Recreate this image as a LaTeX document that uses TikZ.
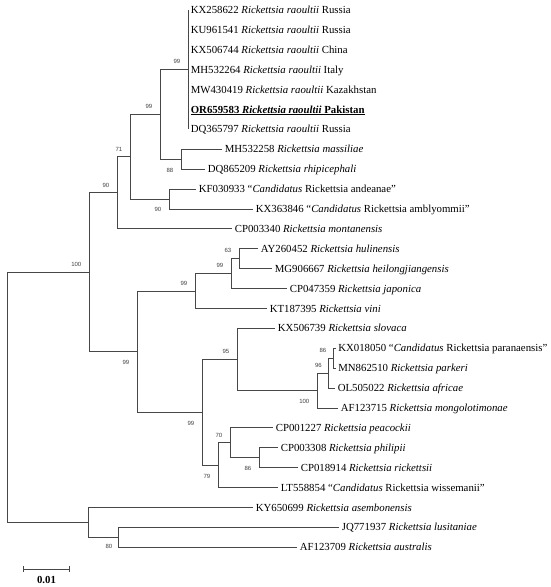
\documentclass[tikz,border=0pt]{standalone}
\usepackage{fontspec}
\setmainfont{Liberation Serif}
\newfontfamily\bsfont{Liberation Sans}
\begin{document}
\begin{tikzpicture}[x=1pt,y=-1pt,
  br/.style={draw=black!72, line width=0.9pt},
  leaf/.style={anchor=west, inner xsep=2.6pt, inner ysep=0pt, text height=7.4pt, text depth=0.4pt, font=\fontsize{10.8}{13}\selectfont},
  bsa/.style={anchor=south east, inner sep=0pt, font=\bsfont\fontsize{6}{7}\selectfont, text=black!75},
  bsb/.style={anchor=north east, inner sep=0pt, font=\bsfont\fontsize{6}{7}\selectfont, text=black!75}]
\useasboundingbox (0,0) rectangle (550,587);
% internal nodes
\coordinate (R1) at (188,69.7);
\coordinate (M1) at (181,159.25);
\coordinate (N160) at (160,114.5);
\coordinate (A1) at (169,199.05);
\coordinate (N130) at (130,156.8);
\coordinate (N117) at (117,192.85);
\coordinate (N239) at (239,258.75);
\coordinate (N231) at (231,273.7);
\coordinate (N195) at (195,291.1);
\coordinate (N333) at (333,358.25);
\coordinate (N328) at (328,373.2);
\coordinate (N317) at (317,390.6);
\coordinate (N237) at (237,359.5);
\coordinate (N259) at (259,457.75);
\coordinate (N230) at (230,442.8);
\coordinate (N218) at (218,465.2);
\coordinate (N202) at (202,412.35);
\coordinate (N137) at (137,351.7);
\coordinate (N89) at (89,272.3);
\coordinate (N118) at (118,537.35);
\coordinate (N88) at (88,522.4);
\coordinate (root) at (7,397.35);
% leaves
\node[leaf] (l0) at (188,10) {KX258622 \textit{Rickettsia raoultii} Russia};
\node[leaf] (l1) at (188,29.9) {KU961541 \textit{Rickettsia raoultii} Russia};
\node[leaf] (l2) at (188,49.8) {KX506744 \textit{Rickettsia raoultii} China};
\node[leaf] (l3) at (188,69.7) {MH532264 \textit{Rickettsia raoultii} Italy};
\node[leaf] (l4) at (188,89.6) {MW430419 \textit{Rickettsia raoultii} Kazakhstan};
\node[leaf] (l5) at (188,109.5) {\textbf{\underline{OR659583 \textit{Rickettsia raoultii} Pakistan}}};
\node[leaf] (l6) at (188,129.4) {DQ365797 \textit{Rickettsia raoultii} Russia};
\node[leaf] (l7) at (222,149.3) {MH532258 \textit{Rickettsia massiliae}};
\node[leaf] (l8) at (205,169.2) {DQ865209 \textit{Rickettsia rhipicephali}};
\node[leaf] (l9) at (196,189.1) {KF030933 “\textit{Candidatus} Rickettsia andeanae”};
\node[leaf] (l10) at (253,209.0) {KX363846 “\textit{Candidatus} Rickettsia amblyommii”};
\node[leaf] (l11) at (232,228.9) {CP003340 \textit{Rickettsia montanensis}};
\node[leaf] (l12) at (258,248.8) {AY260452 \textit{Rickettsia hulinensis}};
\node[leaf] (l13) at (272,268.7) {MG906667 \textit{Rickettsia heilongjiangensis}};
\node[leaf] (l14) at (287,288.6) {CP047359 \textit{Rickettsia japonica}};
\node[leaf] (l15) at (267,308.5) {KT187395 \textit{Rickettsia vini}};
\node[leaf] (l16) at (275,328.4) {KX506739 \textit{Rickettsia slovaca}};
\node[leaf] (l17) at (335.5,348.3) {KX018050 “\textit{Candidatus} Rickettsia paranaensis”};
\node[leaf] (l18) at (335.5,368.2) {MN862510 \textit{Rickettsia parkeri}};
\node[leaf] (l19) at (335,388.1) {OL505022 \textit{Rickettsia africae}};
\node[leaf] (l20) at (338,408.0) {AF123715 \textit{Rickettsia mongolotimonae}};
\node[leaf] (l21) at (273,427.9) {CP001227 \textit{Rickettsia peacockii}};
\node[leaf] (l22) at (278,447.8) {CP003308 \textit{Rickettsia philipii}};
\node[leaf] (l23) at (298,467.7) {CP018914 \textit{Rickettsia rickettsii}};
\node[leaf] (l24) at (278,487.6) {LT558854 “\textit{Candidatus} Rickettsia wissemanii”};
\node[leaf] (l25) at (253,507.5) {KY650699 \textit{Rickettsia asembonensis}};
\node[leaf] (l26) at (339,527.4) {JQ771937 \textit{Rickettsia lusitaniae}};
\node[leaf] (l27) at (297,547.3) {AF123709 \textit{Rickettsia australis}};
% branches
\foreach \i in {0,...,6} \draw[br] (R1) |- (l\i.west);
\draw[br] (M1) |- (l7.west);
\draw[br] (M1) |- (l8.west);
\draw[br] (N160) |- (R1);
\draw[br] (N160) |- (M1);
\draw[br] (A1) |- (l9.west);
\draw[br] (A1) |- (l10.west);
\draw[br] (N130) |- (N160);
\draw[br] (N130) |- (A1);
\draw[br] (N117) |- (N130);
\draw[br] (N117) |- (l11.west);
\draw[br] (N239) |- (l12.west);
\draw[br] (N239) |- (l13.west);
\draw[br] (N231) |- (N239);
\draw[br] (N231) |- (l14.west);
\draw[br] (N195) |- (N231);
\draw[br] (N195) |- (l15.west);
\draw[br] (N333) |- (l17.west);
\draw[br] (N333) |- (l18.west);
\draw[br] (N328) |- (N333);
\draw[br] (N328) |- (l19.west);
\draw[br] (N317) |- (N328);
\draw[br] (N317) |- (l20.west);
\draw[br] (N237) |- (l16.west);
\draw[br] (N237) |- (N317);
\draw[br] (N259) |- (l22.west);
\draw[br] (N259) |- (l23.west);
\draw[br] (N230) |- (l21.west);
\draw[br] (N230) |- (N259);
\draw[br] (N218) |- (N230);
\draw[br] (N218) |- (l24.west);
\draw[br] (N202) |- (N237);
\draw[br] (N202) |- (N218);
\draw[br] (N137) |- (N195);
\draw[br] (N137) |- (N202);
\draw[br] (N89) |- (N117);
\draw[br] (N89) |- (N137);
\draw[br] (N118) |- (l26.west);
\draw[br] (N118) |- (l27.west);
\draw[br] (N88) |- (l25.west);
\draw[br] (N88) |- (N118);
\draw[br] (root) |- (N89);
\draw[br] (root) |- (N88);
% bootstrap values
\node[bsa] (b1) at ([shift={(-7.5pt,5.5pt)}]R1) {99};
\node[bsa] (b2) at ([shift={(-7.5pt,5.5pt)}]N160) {99};
\node[bsb] (b3) at ([shift={(-7.5pt,-8.5pt)}]M1) {88};
\node[bsb] (b4) at ([shift={(-7.5pt,-8.5pt)}]A1) {90};
\node[bsa] (b5) at ([shift={(-7.5pt,5.5pt)}]N130) {71};
\node[bsa] (b6) at ([shift={(-7.5pt,5.5pt)}]N117) {90};
\node[bsa] (b7) at ([shift={(-7.5pt,5.5pt)}]N89) {100};
\node[bsb] (b8) at ([shift={(-7.5pt,-8.5pt)}]N137) {99};
\node[bsa] (b9) at ([shift={(-7.5pt,5.5pt)}]N195) {99};
\node[bsa] (b10) at ([shift={(-7.5pt,5.5pt)}]N231) {99};
\node[bsa] (b11) at ([shift={(-7.5pt,5.5pt)}]N239) {63};
\node[bsa] (b12) at ([shift={(-7.5pt,5.5pt)}]N237) {95};
\node[bsb] (b13) at ([shift={(-7.5pt,-8.5pt)}]N317) {100};
\node[bsa] (b14) at ([shift={(-6pt,5.5pt)}]N328) {96};
\node[bsa] (b15) at ([shift={(-6.5pt,5.5pt)}]N333) {86};
\node[bsb] (b16) at ([shift={(-7.5pt,-8.5pt)}]N202) {99};
\node[bsb] (b17) at ([shift={(-7.5pt,-8.5pt)}]N218) {79};
\node[bsa] (b18) at ([shift={(-7.5pt,5.5pt)}]N230) {70};
\node[bsb] (b19) at ([shift={(-7.5pt,-8.5pt)}]N259) {86};
\node[bsb] (b20) at ([shift={(-5.5pt,-7pt)}]N118) {80};
% scale bar
\coordinate (sbL) at (23,569);
\coordinate (sbR) at (69,569);
\draw[br] (sbL) -- (sbR);
\draw[br] ([yshift=3pt]sbL) -- ([yshift=-3pt]sbL);
\draw[br] ([yshift=3pt]sbR) -- ([yshift=-3pt]sbR);
\node[inner sep=0pt, font=\fontsize{10.8}{13}\selectfont] (sbt) at (46.5,580) {\textbf{0.01}};
\end{tikzpicture}
\end{document}
